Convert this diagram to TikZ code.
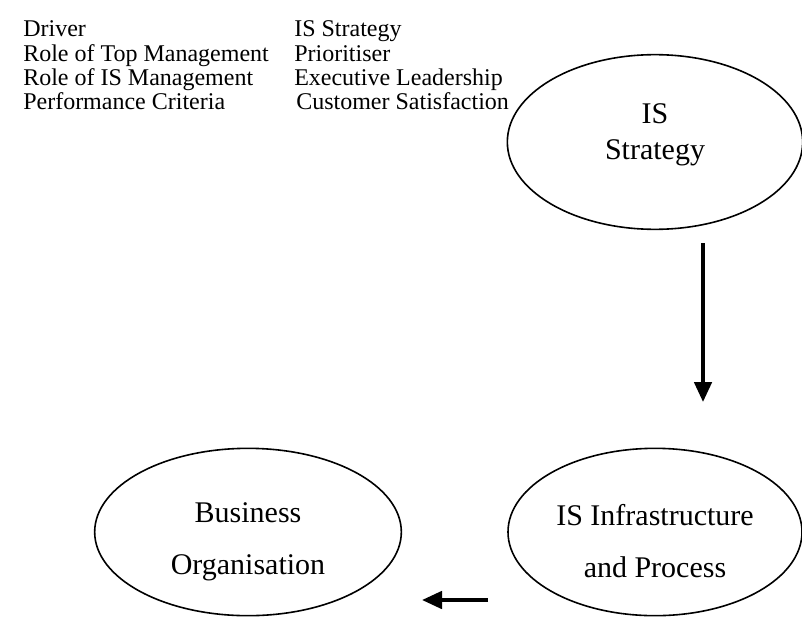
\documentclass[tikz,border=0pt]{standalone}
\usepackage{fontspec}
\setmainfont{Liberation Serif}
\usetikzlibrary{
	arrows.meta,
	shapes.geometric
}
\tikzset{
	>={Triangle[length=15pt, width=13pt]},
	flow/.style={->, line width=2.8pt},
	oval/.style={ellipse, draw, line width=1.2pt, inner sep=0pt, align=center, font=\fontsize{22.5}{27}\selectfont},
	listtext/.style={anchor=base west, inner sep=0pt, font=\fontsize{18}{21.6}\selectfont}
}

\begin{document}
\begin{tikzpicture}[x=0.75pt, y=-0.75pt]
	\useasboundingbox (0,0) rectangle (802,617);
	\foreach \name [count=\d from 0] in {Driver, Role of Top Management, Role of IS Management, Performance Criteria} {
		\node[listtext] (role\d) at (23,37+\d*24) {\name};
	}
	\foreach \name/\xx [count=\d from 0] in {IS Strategy/294, Prioritiser/294, Executive Leadership/294, Customer Satisfaction/296} {
		\node[listtext] (value\d) at (\xx,37+\d*24) {\name};
	}
	\node[oval, minimum width=221.5pt, minimum height=131pt] (strategy) at (655,142) {IS\\Strategy\rule[-15pt]{0pt}{15pt}};
	\node[oval, minimum width=230pt, minimum height=125.5pt] (business) at (248,532) {\rule{0pt}{30pt}Business\\[12pt]Organisation};
	\node[oval, minimum width=220.5pt, minimum height=125.5pt] (infra) at (655,532) {\rule{0pt}{30pt}IS Infrastructure\\[12pt]and Process};
	\coordinate (downstart) at (703,243);
	\coordinate (downend) at (703,402);
	\coordinate (leftstart) at (488,600);
	\coordinate (leftend) at (422,600);
	\draw[flow] (downstart) -- (downend);
	\draw[flow] (leftstart) -- (leftend);
\end{tikzpicture}
\end{document}
